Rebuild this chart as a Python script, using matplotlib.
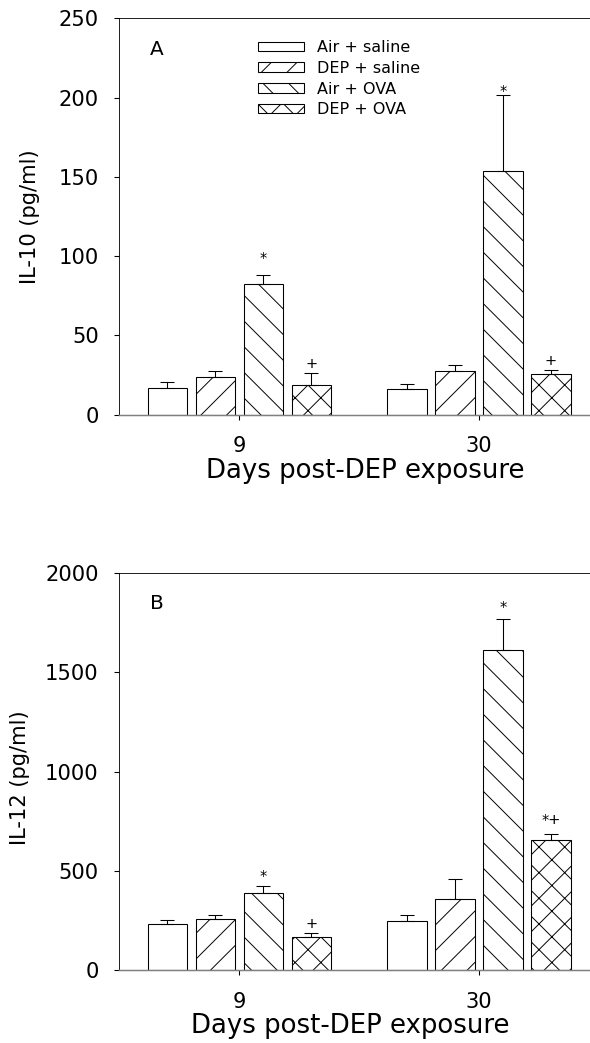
import matplotlib
matplotlib.use("Agg")
import matplotlib.pyplot as plt
import numpy as np

DPI = 77
def pt(px):
    return px * 72.0 / DPI

# ---------------- data ----------------
days = ["9", "30"]
groups = ["Air + saline", "DEP + saline", "Air + OVA", "DEP + OVA"]
hatches = ["", "/", "\\", "x"]

il10_mean = {
    "Air + saline": [16.8, 16.2],
    "DEP + saline": [23.8, 27.8],
    "Air + OVA":    [82.5, 153.6],
    "DEP + OVA":    [18.7, 25.7],
}
il10_err = {
    "Air + saline": [3.6, 2.9],
    "DEP + saline": [4.0, 3.6],
    "Air + OVA":    [5.5, 48.0],
    "DEP + OVA":    [7.6, 2.7],
}
il12_mean = {
    "Air + saline": [232, 247],
    "DEP + saline": [257, 358],
    "Air + OVA":    [389, 1613],
    "DEP + OVA":    [167, 653],
}
il12_err = {
    "Air + saline": [22, 32],
    "DEP + saline": [22, 99],
    "Air + OVA":    [32, 155],
    "DEP + OVA":    [20, 34],
}
# significance marks: (day index, group, symbol, y value)
il10_marks = [(0, "Air + OVA", "*", 102), (0, "DEP + OVA", "+", 32.6),
              (1, "Air + OVA", "*", 207), (1, "DEP + OVA", "+", 34.3)]
il12_marks = [(0, "Air + OVA", "*", 498), (0, "DEP + OVA", "+", 237),
              (1, "Air + OVA", "*", 1852), (1, "DEP + OVA", "*+", 763)]

plt.rcParams["font.family"] = "DejaVu Sans"
plt.rcParams["hatch.linewidth"] = 0.9

W, H = 590, 1043
fig = plt.figure(figsize=(W / DPI, H / DPI), dpi=DPI)

def fx(px):
    return px / W

def fy(py):
    return 1 - py / H

def make_panel(top, bottom, means, errs, marks, ymax, yticks, ylabel,
               ylab_xy, letter, letter_base, legend, xlab_x, xlab_base):
    ax = fig.add_axes([fx(119.3), fy(bottom), 1 - fx(119.3), (bottom - top) / H])
    x = np.arange(len(days))
    offsets = [-0.3, -0.1, 0.1, 0.3]
    width = 0.164
    for g, off, h in zip(groups, offsets, hatches):
        ax.bar(x + off, means[g], width, facecolor="white", edgecolor="black",
               hatch=h, linewidth=1.0, label=g, zorder=2)
        ax.errorbar(x + off, means[g], yerr=[np.zeros(len(days)), errs[g]],
                    fmt="none", ecolor="black", elinewidth=1.0, capsize=pt(7),
                    capthick=1.0, zorder=3)
    for di, g, sym, yv in marks:
        xi = x[di] + offsets[groups.index(g)]
        dy = -5 if sym == "*" else -1
        ax.annotate(sym, (xi, yv), xytext=(0, dy), textcoords="offset pixels",
                    ha="center", va="center", fontsize=pt(14.5))
    ax.set_xlim(-0.5, 1.4625)
    ax.set_ylim(0, ymax)
    ax.set_yticks(yticks)
    ax.set_yticklabels([str(t) for t in yticks])
    ax.set_xticks(x)
    ax.set_xticklabels(days)
    ax.tick_params(axis="y", direction="out", length=pt(5), width=1,
                   labelsize=pt(21), pad=pt(15.5))
    ax.tick_params(axis="x", direction="out", length=pt(5), width=1,
                   labelsize=pt(21), pad=pt(16.8))
    ax.spines["right"].set_visible(False)
    ax.spines["bottom"].set_color("#808080")
    ax.spines["bottom"].set_linewidth(1.4)
    fig.text(fx(ylab_xy[0]), fy(ylab_xy[1]), ylabel, rotation=90,
             fontsize=pt(21), ha="center", va="center")
    fig.text(fx(xlab_x), fy(xlab_base), "Days post-DEP exposure",
             fontsize=pt(26), ha="center", va="baseline")
    ax.text(fx(156.5), fy(letter_base), letter, transform=fig.transFigure,
            fontsize=pt(20), ha="center", va="baseline")
    if legend:
        ax.legend(loc="upper left", bbox_to_anchor=(fx(258), fy(40)),
                  bbox_transform=fig.transFigure, frameon=False,
                  fontsize=pt(16), handlelength=2.88, handleheight=0.52,
                  handletextpad=0.8, labelspacing=0.36, borderpad=0,
                  borderaxespad=0)
    return ax

ax1 = make_panel(18.3, 414.6, il10_mean, il10_err, il10_marks, 250,
                 [0, 50, 100, 150, 200, 250], "IL-10 (pg/ml)", (30.5, 216.5),
                 "A", 55, True, 365, 477.7)
ax2 = make_panel(573, 970, il12_mean, il12_err, il12_marks, 2000,
                 [0, 500, 1000, 1500, 2000], "IL-12 (pg/ml)", (20, 778),
                 "B", 608.7, False, 350.5, 1033)

fig.savefig("out.png", dpi=DPI)
